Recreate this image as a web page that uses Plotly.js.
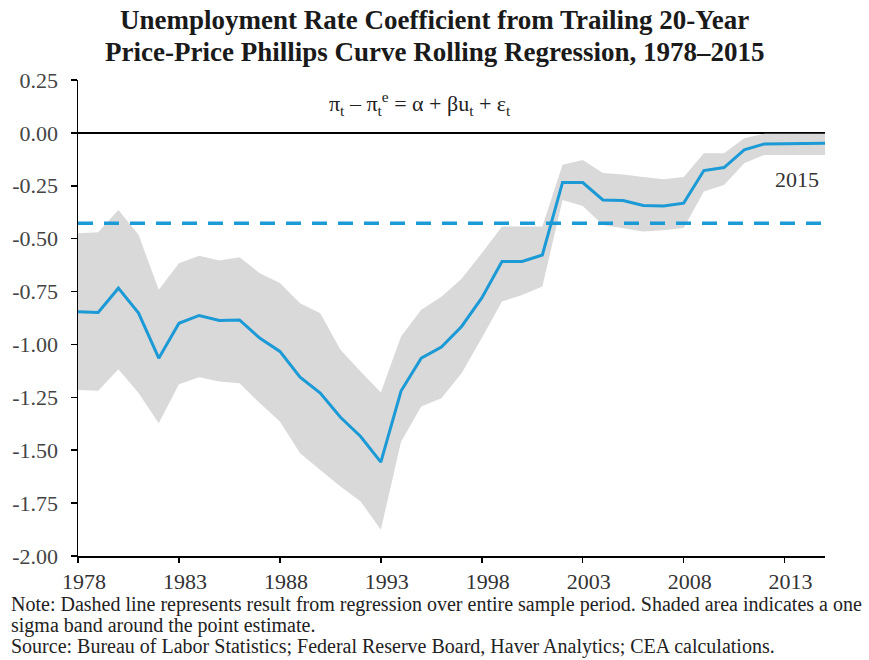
<!DOCTYPE html>
<html>
<head>
<meta charset="utf-8">
<script src="https://cdn.plot.ly/plotly-3.0.1.min.js"></script>
<style>html,body{margin:0;padding:0;background:#fff;}#chart{width:869px;height:660px;}</style>
</head>
<body>
<div id="chart"></div>
<script>
const years = [1978,1979,1980,1981,1982,1983,1984,1985,1986,1987,1988,1989,1990,1991,1992,1993,1994,1995,1996,1997,1998,1999,2000,2001,2002,2003,2004,2005,2006,2007,2008,2009,2010,2011,2012,2013,2014,2015];
const coefficient = [-0.845,-0.849,-0.734,-0.852,-1.065,-0.900,-0.863,-0.887,-0.884,-0.970,-1.033,-1.155,-1.230,-1.344,-1.435,-1.556,-1.220,-1.065,-1.012,-0.915,-0.780,-0.608,-0.608,-0.577,-0.234,-0.235,-0.317,-0.320,-0.343,-0.345,-0.332,-0.178,-0.164,-0.080,-0.052,-0.052,-0.052,-0.049];
const upperBand = [-0.474,-0.470,-0.364,-0.482,-0.742,-0.616,-0.581,-0.603,-0.588,-0.663,-0.710,-0.805,-0.852,-1.025,-1.128,-1.227,-0.963,-0.836,-0.774,-0.690,-0.569,-0.443,-0.443,-0.443,-0.151,-0.128,-0.190,-0.197,-0.209,-0.219,-0.209,-0.096,-0.096,-0.025,-0.004,-0.004,-0.004,-0.004];
const lowerBand = [-1.215,-1.219,-1.117,-1.230,-1.372,-1.188,-1.155,-1.175,-1.183,-1.277,-1.364,-1.514,-1.593,-1.671,-1.742,-1.876,-1.460,-1.293,-1.254,-1.136,-0.970,-0.797,-0.766,-0.726,-0.317,-0.345,-0.435,-0.450,-0.466,-0.460,-0.450,-0.277,-0.246,-0.143,-0.104,-0.104,-0.104,-0.104];
const fullSampleYears = [1978, 2015];
const fullSampleValue = [-0.427, -0.427];
const xTickVals = [1978,1983,1988,1993,1998,2003,2008,2013];
const xTickText = ['1978','1983','1988','1993','1998','2003','2008','2013'];
const yTickVals = [0.25,0,-0.25,-0.5,-0.75,-1,-1.25,-1.5,-1.75,-2];
const yTickText = ['0.25','0.00','-0.25','-0.50','-0.75','-1.00','-1.25','-1.50','-1.75','-2.00'];
const titleLines = ['Unemployment Rate Coefficient from Trailing 20-Year', 'Price-Price Phillips Curve Rolling Regression, 1978–2015'];
const noteLines = [
  'Note: Dashed line represents result from regression over entire sample period. Shaded area indicates a one',
  'sigma band around the point estimate.',
  'Source: Bureau of Labor Statistics; Federal Reserve Board, Haver Analytics; CEA calculations.'
];

const SERIF = 'Liberation Serif, Times New Roman, serif';
const BLUE = '#1B9AD6';

const traces = [
  {x: years, y: lowerBand, type: 'scatter', mode: 'lines', line: {width: 0, color: '#d9d9d9'}, hoverinfo: 'skip', showlegend: false},
  {x: years, y: upperBand, type: 'scatter', mode: 'lines', fill: 'tonexty', fillcolor: '#d9d9d9', line: {width: 0, color: '#d9d9d9'}, hoverinfo: 'skip', showlegend: false},
  {x: fullSampleYears, y: fullSampleValue, type: 'scatter', mode: 'lines', line: {color: BLUE, width: 3.5, dash: '15px,11px'}, showlegend: false},
  {x: years, y: coefficient, type: 'scatter', mode: 'lines', line: {color: BLUE, width: 3}, showlegend: false}
];

const titleY = [1.126, 1.058];
const noteY = [-0.102, -0.146, -0.19];

const annotations = [
  {xref: 'paper', yref: 'paper', x: 0.458, y: 0.95, xanchor: 'center', yanchor: 'middle', showarrow: false,
   text: 'π<sub>t</sub> – π<sub>t</sub><sup>e</sup> = α + βu<sub>t</sub> + ε<sub>t</sub>',
   font: {family: SERIF, size: 22, color: '#222'}},
  {xref: 'x', yref: 'y', x: 2013.6, y: -0.222, xanchor: 'center', yanchor: 'middle', showarrow: false,
   text: '2015', font: {family: SERIF, size: 22, color: '#333'}}
];
titleLines.forEach((t, i) => annotations.push({
  xref: 'paper', yref: 'paper', x: (434.5 - 78) / 747, y: titleY[i], xanchor: 'center', yanchor: 'middle', showarrow: false,
  text: '<b>' + t + '</b>', font: {family: SERIF, size: 27, color: '#1a1a1a'}
}));
noteLines.forEach((t, i) => annotations.push({
  xref: 'paper', yref: 'paper', x: -0.092, y: noteY[i], xanchor: 'left', yanchor: 'middle', showarrow: false, align: 'left',
  text: t, font: {family: SERIF, size: 20, color: '#222'}
}));

const layout = {
  width: 869, height: 660,
  margin: {l: 78, r: 44, t: 80, b: 104},
  paper_bgcolor: '#fff', plot_bgcolor: '#fff',
  showlegend: false,
  xaxis: {
    range: [1978, 2015],
    tickvals: xTickVals, ticktext: xTickText,
    showgrid: false, zeroline: false,
    showline: true, linecolor: '#000', linewidth: 1.5,
    ticks: 'outside', ticklen: 5, tickcolor: '#000', tickwidth: 1.5,
    ticklabelshift: 6,
    tickfont: {family: SERIF, size: 22, color: '#333'}
  },
  yaxis: {
    range: [-2, 0.25],
    tickvals: yTickVals, ticktext: yTickText,
    showgrid: false,
    zeroline: true, zerolinecolor: '#000', zerolinewidth: 1.5,
    showline: true, linecolor: '#000', linewidth: 1.5,
    ticks: 'outside', ticklen: 6, tickcolor: '#000', tickwidth: 1.5,
    ticklabelstandoff: 8,
    tickfont: {family: SERIF, size: 22, color: '#444'}
  },
  annotations: annotations
};

Plotly.newPlot('chart', traces, layout, {displayModeBar: false, staticPlot: true});
</script>
</body>
</html>
